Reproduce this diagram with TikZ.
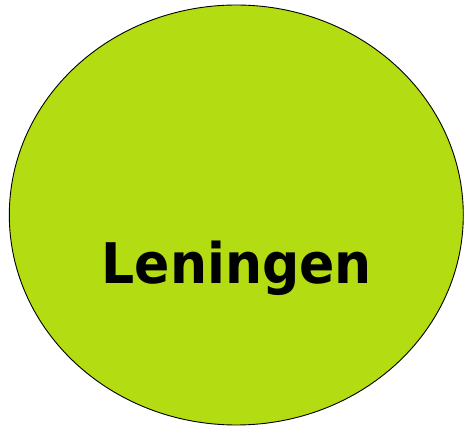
\documentclass[tikz,border=0pt]{standalone}
\usepackage{fontspec}
\setmainfont{DejaVu Sans}
\usetikzlibrary{shapes.geometric}
\definecolor{limegreen}{HTML}{B4DC12}
\begin{document}
\begin{tikzpicture}[x=1pt,y=1pt]

\tikzstyle{blob} = [ellipse, draw=black, line width=0.9pt, fill=limegreen, minimum width=454pt, minimum height=420pt, inner sep=0pt]
\tikzstyle{label} = [font=\fontsize{56}{60}\selectfont\bfseries, inner sep=0pt, anchor=base, xscale=0.93]

\useasboundingbox (0,0) rectangle (464,426);

\node (loans) [blob] at (236.3,211) {};
\node (title) [label] at (236.9,142) {Leningen};

\end{tikzpicture}
\end{document}
